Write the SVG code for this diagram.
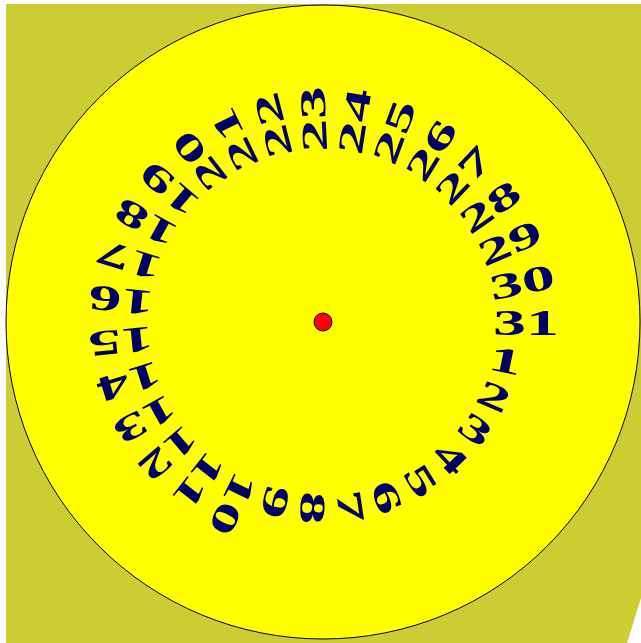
<svg xmlns="http://www.w3.org/2000/svg" width="641" height="643" viewBox="0 0 641 643">
<style>
.n{font-family:"Liberation Serif","Times New Roman",serif;font-weight:bold;font-size:36px;fill:#000066}
</style>
<rect x="0" y="0" width="641" height="643" fill="#ffffff"/>
<polygon points="6,4 641,4 641,598 627,643 6,643" fill="#cccc33"/>
<circle cx="323" cy="322" r="317" fill="#ffff00" stroke="#000000" stroke-width="1"/>
<g id="hub"><circle cx="323" cy="322" r="9" fill="#ff0000" stroke="#000000" stroke-width="1"/></g>
<g id="labels" transform="translate(323,322)">
<g id="n1" transform="rotate(11.613)"><text class="n" transform="translate(170,13) scale(1.83,1)">1</text></g>
<g id="n2" transform="rotate(23.226)"><text class="n" transform="translate(170,13) scale(1.83,1)">2</text></g>
<g id="n3" transform="rotate(34.839)"><text class="n" transform="translate(170,13) scale(1.83,1)">3</text></g>
<g id="n4" transform="rotate(46.452)"><text class="n" transform="translate(170,13) scale(1.83,1)">4</text></g>
<g id="n5" transform="rotate(58.065)"><text class="n" transform="translate(170,13) scale(1.83,1)">5</text></g>
<g id="n6" transform="rotate(69.677)"><text class="n" transform="translate(170,13) scale(1.83,1)">6</text></g>
<g id="n7" transform="rotate(81.290)"><text class="n" transform="translate(170,13) scale(1.83,1)">7</text></g>
<g id="n8" transform="rotate(92.903)"><text class="n" transform="translate(170,13) scale(1.83,1)">8</text></g>
<g id="n9" transform="rotate(104.516)"><text class="n" transform="translate(170,13) scale(1.83,1)">9</text></g>
<g id="n10" transform="rotate(116.129)"><text class="n" transform="translate(170,13) scale(1.83,1)">10</text></g>
<g id="n11" transform="rotate(127.742)"><text class="n" transform="translate(170,13) scale(1.83,1)">11</text></g>
<g id="n12" transform="rotate(139.355)"><text class="n" transform="translate(170,13) scale(1.83,1)">12</text></g>
<g id="n13" transform="rotate(150.968)"><text class="n" transform="translate(170,13) scale(1.83,1)">13</text></g>
<g id="n14" transform="rotate(162.581)"><text class="n" transform="translate(170,13) scale(1.83,1)">14</text></g>
<g id="n15" transform="rotate(174.194)"><text class="n" transform="translate(170,13) scale(1.83,1)">15</text></g>
<g id="n16" transform="rotate(185.806)"><text class="n" transform="translate(170,13) scale(1.83,1)">16</text></g>
<g id="n17" transform="rotate(197.419)"><text class="n" transform="translate(170,13) scale(1.83,1)">17</text></g>
<g id="n18" transform="rotate(209.032)"><text class="n" transform="translate(170,13) scale(1.83,1)">18</text></g>
<g id="n19" transform="rotate(220.645)"><text class="n" transform="translate(170,13) scale(1.83,1)">19</text></g>
<g id="n20" transform="rotate(232.258)"><text class="n" transform="translate(170,13) scale(1.83,1)">20</text></g>
<g id="n21" transform="rotate(243.871)"><text class="n" transform="translate(170,13) scale(1.83,1)">21</text></g>
<g id="n22" transform="rotate(255.484)"><text class="n" transform="translate(170,13) scale(1.83,1)">22</text></g>
<g id="n23" transform="rotate(267.097)"><text class="n" transform="translate(170,13) scale(1.83,1)">23</text></g>
<g id="n24" transform="rotate(278.710)"><text class="n" transform="translate(170,13) scale(1.83,1)">24</text></g>
<g id="n25" transform="rotate(290.323)"><text class="n" transform="translate(170,13) scale(1.83,1)">25</text></g>
<g id="n26" transform="rotate(301.935)"><text class="n" transform="translate(170,13) scale(1.83,1)">26</text></g>
<g id="n27" transform="rotate(313.548)"><text class="n" transform="translate(170,13) scale(1.83,1)">27</text></g>
<g id="n28" transform="rotate(325.161)"><text class="n" transform="translate(170,13) scale(1.83,1)">28</text></g>
<g id="n29" transform="rotate(336.774)"><text class="n" transform="translate(170,13) scale(1.83,1)">29</text></g>
<g id="n30" transform="rotate(348.387)"><text class="n" transform="translate(170,13) scale(1.83,1)">30</text></g>
<g id="n31" transform="rotate(0)"><text class="n" transform="translate(170,13) scale(1.83,1)">31</text></g>
</g>
<g id="connectors"/>
</svg>
